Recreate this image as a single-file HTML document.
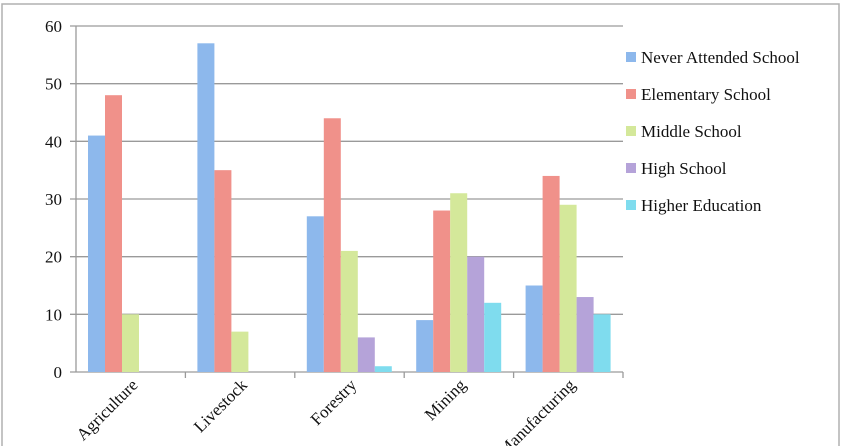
<!DOCTYPE html>
<html><head><meta charset="utf-8"><style>
body{margin:0;background:#fff;}
svg{display:block;font-family:"Liberation Serif",serif;}
</style></head><body>
<svg id="chart" width="850" height="446">
<rect x="2" y="4" width="837" height="460" fill="#fff" stroke="#b0b0b0" stroke-width="1.5"/>
<g id="grid"></g><g id="bars"></g><g id="axes"></g><g id="legend"></g>
</svg>
<script>
const categories=["Agriculture","Livestock","Forestry","Mining","Manufacturing"];
const seriesNames=["Never Attended School","Elementary School","Middle School","High School","Higher Education"];
const neverAttended=[41,57,27,9,15];
const elementary=[48,35,44,28,34];
const middle=[10,7,21,31,29];
const high=[0,0,6,20,13];
const higherEd=[0,0,1,12,10];
const yTicks=[0,10,20,30,40,50,60];
const series=[neverAttended,elementary,middle,high,higherEd];
const colors=["#8db8ec","#f0918a","#d4e89a","#b5a3d9","#7fdcee"];
const NS="http://www.w3.org/2000/svg";
const x0=76,x1=623,y0=372,y1=26,yMax=60;
const gw=(x1-x0)/categories.length,bw=17,pad=12;
const y=v=>y0-(v/yMax)*(y0-y1);
function mk(tag,attrs,parent){const e=document.createElementNS(NS,tag);for(const k in attrs)e.setAttribute(k,attrs[k]);parent.appendChild(e);return e;}
const grid=document.getElementById('grid'),bars=document.getElementById('bars'),axes=document.getElementById('axes'),legend=document.getElementById('legend');
yTicks.forEach(t=>{
 const l=mk('line',{x1:x0-6,x2:x1,y1:y(t),y2:y(t),stroke:'#9a9a9a','stroke-width':1.3},grid);
 
 
 const tx=mk('text',{x:x0-14,y:y(t)+6,'text-anchor':'end','font-size':17,fill:'#111'},axes);
 tx.textContent=t;
 
 
});
const ax=mk('line',{x1:x0,x2:x0,y1:y1,y2:y0,stroke:'#9a9a9a','stroke-width':1.3},axes);


categories.forEach((c,i)=>{
 const gx=x0+i*gw;
 const tk=mk('line',{x1:gx+gw,x2:gx+gw,y1:y0,y2:y0+6,stroke:'#9a9a9a','stroke-width':1.3},axes);
 
 
 series.forEach((s,j)=>{
  const v=s[i];
  if(v<=0)return;
  const r=mk('rect',{x:gx+pad+j*bw,y:y(v),width:bw,height:y0-y(v),fill:colors[j]},bars);
  
  
 });
 const cx=gx+gw/2+8,cy=386;
 const t=mk('text',{x:cx,y:cy,'text-anchor':'end','font-size':17,fill:'#111',transform:`rotate(-45 ${cx} ${cy})`},axes);
 t.textContent=c;
 
 
});
seriesNames.forEach((n,j)=>{
 const ly=63+j*37;
 const g=mk('g',{},legend);
 
 
 mk('rect',{x:626,y:ly-11,width:10,height:10,fill:colors[j]},g);
 const t=mk('text',{x:641,y:ly,'font-size':17,fill:'#111'},g);
 t.textContent=n;
});
</script>
</body></html>
